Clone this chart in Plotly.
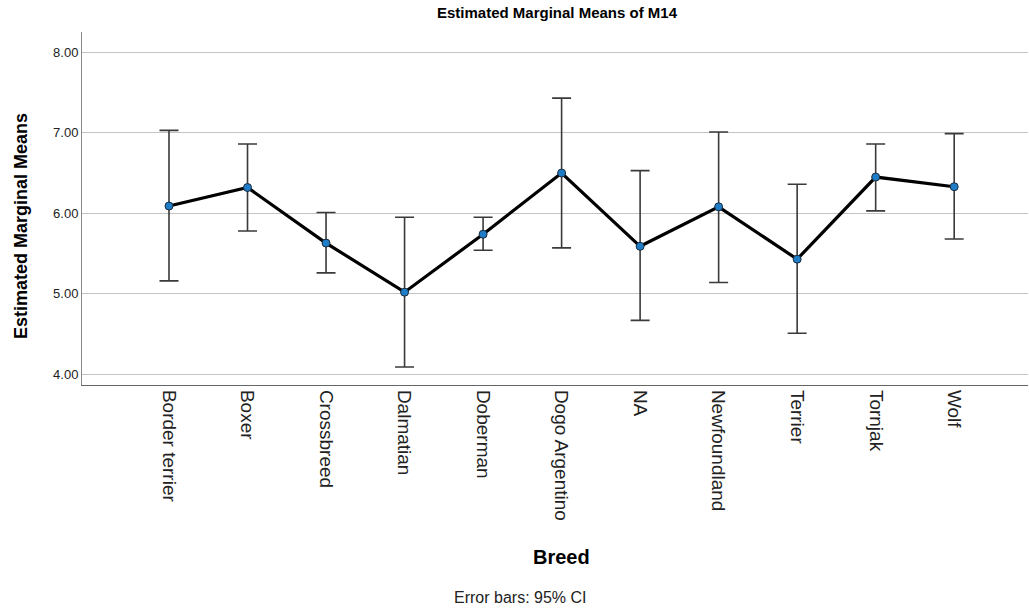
import plotly.graph_objects as go

breeds = ["Border terrier", "Boxer", "Crossbreed", "Dalmatian", "Doberman",
          "Dogo Argentino", "NA", "Newfoundland", "Terrier", "Tornjak", "Wolf"]
means = [6.09, 6.32, 5.63, 5.02, 5.74, 6.50, 5.59, 6.08, 5.43, 6.45, 6.33]
upper = [7.03, 6.86, 6.01, 5.95, 5.95, 7.43, 6.53, 7.01, 6.36, 6.86, 6.99]
lower = [5.16, 5.78, 5.26, 4.09, 5.54, 5.57, 4.67, 5.14, 4.51, 6.03, 5.68]
y_ticks = [4, 5, 6, 7, 8]
y_tick_text = ["4.00", "5.00", "6.00", "7.00", "8.00"]

err_plus = [u - m for u, m in zip(upper, means)]
err_minus = [m - l for m, l in zip(means, lower)]
xi = list(range(len(breeds)))

FONT = "Liberation Sans, Arial, sans-serif"
W, H = 1029, 608
ML, MR, MT, MB = 82, 1, 32, 223

fig = go.Figure()
fig.add_trace(go.Scatter(
    x=xi, y=means, mode="lines+markers",
    line=dict(color="black", width=3.2),
    marker=dict(size=8, color="#1f7dc8", line=dict(color="#1a2a3a", width=1)),
    error_y=dict(type="data", symmetric=False, array=err_plus, arrayminus=err_minus,
                 color="#3a3a3a", thickness=1.6, width=9.5),
    showlegend=False,
))

fig.update_layout(
    width=W, height=H,
    margin=dict(l=ML, r=MR, t=MT, b=MB, autoexpand=False),
    paper_bgcolor="white", plot_bgcolor="white",
    font=dict(family=FONT, color="black"),
    title=dict(text="<b>Estimated Marginal Means of M14</b>", x=557 / W, xanchor="center",
               xref="container", y=1 - 13 / H, yanchor="middle", yref="container",
               font=dict(size=15, family=FONT), automargin=False),
    xaxis=dict(
        range=[-1.108, 10.94], tickmode="array", tickvals=xi, ticktext=breeds,
        tickangle=90, tickfont=dict(size=19, color="#222"), showgrid=False,
        showline=True, linecolor="#666", linewidth=1.2, zeroline=False, ticks="",
        automargin=False,
    ),
    yaxis=dict(
        range=[3.867, 8.252], tickmode="array", tickvals=y_ticks, ticktext=y_tick_text,
        tickfont=dict(size=13, color="#222"), showgrid=True, gridcolor="#c4c4c4",
        gridwidth=1.2, showline=True, linecolor="#888", linewidth=1, zeroline=False,
        ticks="", automargin=False,
    ),
)

pw = W - ML - MR
ph = H - MT - MB
def px_x(x):
    return (x - ML) / pw
def px_y(y):
    return (H - MB - y) / ph

fig.add_annotation(text="<b>Estimated Marginal Means</b>", xref="paper", yref="paper",
                   x=px_x(21), y=px_y(226), xanchor="center", yanchor="middle",
                   textangle=-90, showarrow=False, font=dict(size=18, family=FONT))
fig.add_annotation(text="<b>Breed</b>", xref="paper", yref="paper",
                   x=px_x(561), y=px_y(557), xanchor="center", yanchor="middle",
                   showarrow=False, font=dict(size=20, family=FONT))
fig.add_annotation(text="Error bars: 95% CI", xref="paper", yref="paper",
                   x=px_x(520), y=px_y(597), xanchor="center", yanchor="middle",
                   showarrow=False, font=dict(size=16, color="#222", family=FONT))

fig.write_html("out.html", config={"displayModeBar": False},
               post_script="document.body.style.margin='0px';document.body.style.overflow='hidden';")
